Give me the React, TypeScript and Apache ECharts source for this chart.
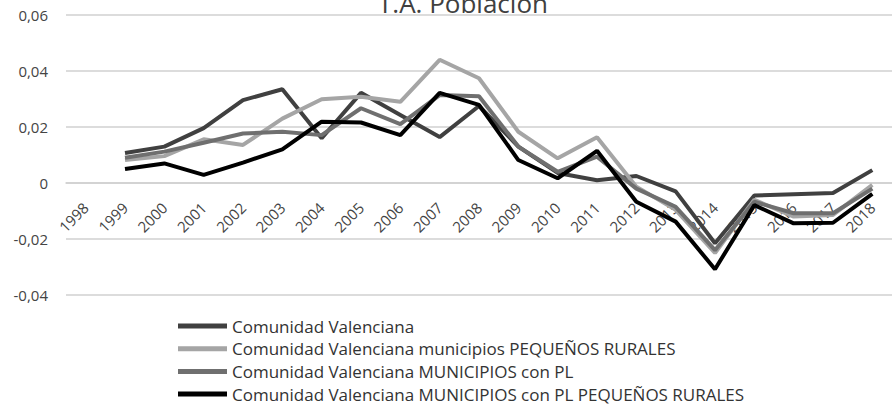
import React, { useEffect, useRef } from "react";
import * as echarts from "echarts";

const years = ["1998","1999","2000","2001","2002","2003","2004","2005","2006","2007","2008","2009","2010","2011","2012","2013","2014","2015","2016","2017","2018"];

const seriesNames = [
  "Comunidad Valenciana",
  "Comunidad Valenciana municipios PEQUEÑOS RURALES",
  "Comunidad Valenciana MUNICIPIOS con PL",
  "Comunidad Valenciana MUNICIPIOS con PL PEQUEÑOS RURALES",
];

const comunidad = [null, 0.0107, 0.013, 0.0196, 0.0296, 0.0335, 0.016, 0.0322, 0.0243, 0.0164, 0.0275, 0.013, 0.0036, 0.001, 0.0025, -0.003, -0.0215, -0.0045, -0.004, -0.0036, 0.0046];
const pequenosRurales = [null, 0.0082, 0.0096, 0.0156, 0.0136, 0.023, 0.0299, 0.0308, 0.029, 0.044, 0.0374, 0.0183, 0.0088, 0.0163, -0.0013, -0.0096, -0.025, -0.006, -0.012, -0.0114, -0.0007];
const municipiosPL = [null, 0.009, 0.0112, 0.0144, 0.0177, 0.0183, 0.0171, 0.0267, 0.021, 0.0314, 0.031, 0.013, 0.004, 0.0094, -0.002, -0.0085, -0.024, -0.0067, -0.0108, -0.0108, -0.002];
const municipiosPLRurales = [null, 0.005, 0.007, 0.0029, 0.0073, 0.012, 0.0219, 0.0216, 0.0171, 0.0322, 0.0279, 0.0082, 0.0017, 0.0115, -0.0067, -0.0138, -0.0308, -0.0079, -0.0144, -0.0142, -0.0039];

const seriesData = [comunidad, pequenosRurales, municipiosPL, municipiosPLRurales];
const colors = ["#404040", "#a5a5a5", "#6f6f6f", "#000000"];

const FONT = "Open Sans";

export default function App() {
  const ref = useRef<HTMLDivElement>(null);
  useEffect(() => {
    const chart = echarts.init(ref.current!, null, { renderer: "svg" });
    chart.setOption({
      animation: false,
      title: {
        text: "T.A. Población",
        left: 378,
        top: -10,
        padding: 0,
        textStyle: { fontFamily: FONT, fontSize: 26, fontWeight: "normal", color: "#404040" },
      },
      grid: { left: 66, top: 15, width: 834, height: 280, containLabel: false },
      legend: {
        orient: "vertical",
        left: 178,
        top: 317,
        height: 120,
        padding: 0,
        itemWidth: 49,
        itemHeight: 5,
        itemGap: 4.7,
        icon: "rect",
        textStyle: { fontFamily: FONT, fontSize: 17, color: "#333", lineHeight: 18 },
        data: seriesNames,
      },
      xAxis: {
        type: "category",
        data: years,
        boundaryGap: true,
        offset: -112,
        axisLine: { onZero: false, lineStyle: { color: "#d0d0d0", width: 1.5 } },
        axisTick: { show: false },
        axisLabel: { rotate: 45, margin: 22, fontFamily: FONT, fontSize: 15, color: "#444", interval: 0 },
      },
      yAxis: {
        type: "value",
        min: -0.04,
        max: 0.06,
        interval: 0.02,
        axisLine: { show: false },
        axisTick: { show: false },
        splitLine: { lineStyle: { color: "#d0d0d0", width: 1.5 } },
        axisLabel: {
          margin: 18,
          fontFamily: FONT,
          fontSize: 15,
          color: "#444",
          formatter: (v: number) => (Math.abs(v) < 1e-9 ? "0" : v.toFixed(2).replace(".", ",")),
        },
      },
      series: seriesNames.map((name, i) => ({
        name,
        type: "line",
        data: seriesData[i],
        symbol: "none",
        lineStyle: { color: colors[i], width: 4 },
        itemStyle: { color: colors[i] },
        z: 2 + i,
      })),
    });
    return () => chart.dispose();
  }, []);
  return <div ref={ref} style={{ width: 892, height: 405, position: "absolute", left: 0, top: 0 }} />;
}
